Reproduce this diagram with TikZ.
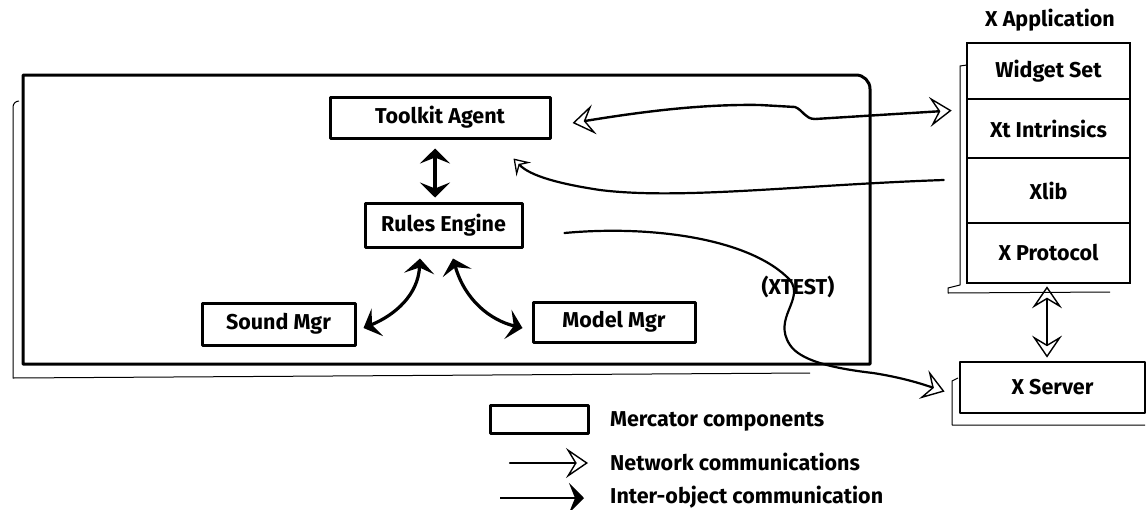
\documentclass[tikz,border=0pt]{standalone}
\usepackage{fontspec}
\setmainfont{Fira Sans}
\usetikzlibrary{arrows.meta,calc}
\pgfkeys{
  /pgf/arrow keys/nettip/.style={open, length=22pt, width=30pt, inset=9pt, line width=1.4pt},
  /pgf/arrow keys/smalltip/.style={open, length=15pt, width=20pt, inset=6pt, line width=1.3pt},
  /pgf/arrow keys/objtip/.style={length=15pt, width=30pt, inset=6pt},
}
\tikzset{
  lbl/.style={font=\fontsize{21.5}{25}\selectfont\bfseries, inner sep=0pt},
  comp/.style={draw, line width=3pt, line join=round, inner sep=0pt, lbl},
  layer/.style={draw, line width=2.6pt, inner sep=0pt, minimum width=163pt, lbl},
  shadowline/.style={line width=1pt, line join=round},
  netarrow/.style={line width=2.2pt, line cap=round, -{Stealth[nettip]}},
  netsmall/.style={line width=2.2pt, line cap=round, -{Stealth[smalltip]}},
  netboth/.style={line width=2.4pt, {Stealth[nettip]}-{Stealth[nettip]}},
  objarrow/.style={line width=2.8pt, -{Stealth[objtip]}},
  objboth/.style={line width=3.2pt, {Stealth[objtip]}-{Stealth[objtip]}},
}
\begin{document}
\begin{tikzpicture}[x=1pt,y=-1pt]
\useasboundingbox (0,0) rectangle (1148,509);

% outer Mercator frame
\draw[line width=3pt, line join=round] (23,75) -- (856,75) arc[start angle=90, end angle=0, radius=14pt] -- (870,364) -- (23,364) -- cycle;
\draw[shadowline] (19,101) to[out=180,in=90] (13,107) -- (13,378) -- (810,373);

% Mercator components
\node[comp, minimum width=220pt, minimum height=41pt] (tk) at (440,117.5) {Toolkit Agent};
\node[comp, minimum width=157pt, minimum height=44pt] (re) at (443.5,225) {Rules Engine};
\node[comp, minimum width=153pt, minimum height=42pt] (sm) at (278.5,324) {Sound Mgr};
\node[comp, minimum width=162pt, minimum height=40pt] (mm) at (614,322) {Model Mgr};

% X application stack
\node[lbl] (xapp) at (1050,20) {X Application};
\node[layer, minimum height=56pt] (ws) at (1048.5,71) {Widget Set};
\node[layer, minimum height=59pt] (xt) at (1048.5,128.5) {Xt Intrinsics};
\node[layer, minimum height=65pt] (xl) at (1048.5,190.5) {Xlib};
\node[layer, minimum height=60pt] (xp) at (1048.5,253) {X Protocol};
\draw[shadowline] (967,65) -- (960,66) -- (960,285) -- (948,288) -- (948,293) -- (1110,292);

% X server
\node[comp, line width=2.8pt, minimum width=185pt, minimum height=51pt] (xs) at (1052.5,387.5) {X Server};
\draw[shadowline] (958,378) -- (952,381) -- (952,425) -- (1145,425);

% connectors
\draw[objboth] ($(tk.south)+(-5,9)$) -- ($(re.north)+(-8.5,-4)$);
\draw[objboth] ($(re.south)+(-23.5,10)$) .. controls (418,295) and (395,315) .. ($(sm.east)+(7,4)$);
\draw[objboth] ($(re.south)+(9.5,10)$) .. controls (465,300) and (490,320) .. ($(mm.west)+(-9,6)$);

\draw[netboth] ($(tk.east)+(21,5.5)$) .. controls (640,112) and (700,104) .. (760,105)
  -- (795,107) .. controls (803,110) and (805,119) .. (815,119) -- ($(xt.west)+(-14,-18)$);
\draw[netsmall] ($(xl.west)+(-22,-10.5)$) .. controls (800,185) and (680,200) .. (600,190)
  .. controls (560,184) and (530,176) .. ($(tk.south east)+(-38,19)$);
\draw[netarrow] ($(re.east)+(41,8)$) .. controls (650,225) and (750,238) .. (790,280)
  .. controls (805,300) and (772,318) .. (790,345)
  .. controls (800,360) and (830,368) .. (873,373)
  .. controls (905,378) and (925,385) .. ($(xs.west)+(-14,4)$);
\node[lbl] (xtest) at (798,287) {(XTEST)};
\draw[netboth] ($(xp.south)+(-1.5,2)$) -- ($(xs.north)+(-5.5,-3)$);

% legend
\node[comp, minimum width=98pt, minimum height=28pt] (lgbox) at (539,419) {};
\node[lbl, anchor=west] (lg1) at (610,421) {Mercator components};
\coordinate (na) at (510,463);
\coordinate (nb) at (588,463);
\draw[netarrow] (na) -- (nb);
\node[lbl, anchor=west] (lg2) at (610,462) {Network communications};
\coordinate (oa) at (500,498);
\coordinate (ob) at (584,498);
\draw[objarrow] (oa) -- (ob);
\node[lbl, anchor=west] (lg3) at (610,497) {Inter-object communication};
\end{tikzpicture}
\end{document}
